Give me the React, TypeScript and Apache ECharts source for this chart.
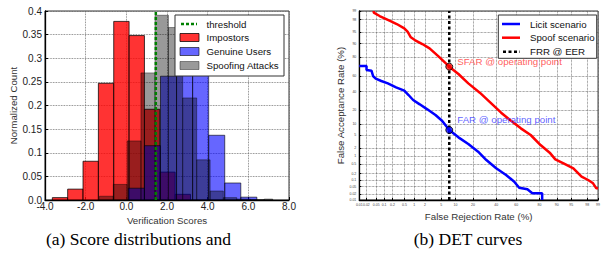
import React, { useEffect, useRef } from 'react';
import * as echarts from 'echarts';

// ---------- (a) histogram data (normalized counts) ----------
const histYTickLabels = ['0.0', '0.05', '0.1', '0.15', '0.2', '0.25', '0.3', '0.35', '0.4'];
const impostorEdges = [-3.64, -2.885, -2.13, -1.375, -0.62, 0.135, 0.89, 1.645, 2.4, 3.155];
const impostorCounts = [0.005, 0.023, 0.082, 0.247, 0.378, 0.348, 0.192, 0.059, 0.012];
const genuineEdges = [0.1, 0.89, 1.68, 2.47, 3.26, 4.05, 4.84, 5.63, 6.42];
const genuineCounts = [0.025, 0.115, 0.262, 0.35, 0.32, 0.137, 0.036, 0.006];
const spoofEdges = [-1.32, -0.64, 0.04, 0.72, 1.41, 2.07, 2.77, 3.46, 4.12, 4.77, 5.43, 6.1, 6.78, 7.2];
const spoofCounts = [0.008, 0.033, 0.125, 0.269, 0.391, 0.365, 0.216, 0.085, 0.019, 0.005, 0.002, 0.001, 0.002];
const thresholdScore = 1.45;

// ---------- (b) DET data (normal deviate coordinates) ----------
const detTickPercents = [0.01, 0.02, 0.05, 0.1, 0.2, 0.5, 1, 2, 5, 10, 20, 40, 60, 80, 90, 95, 98, 99];
const detTickLabels = ['0.01', '0.02', '0.05', '0.1', '0.2', '0.5', '1', '2', '5', '10', '20', '40', '60', '80', '90', '95', '98', '99'];
const licitFrrDev = [-3.719, -3.536, -3.536, -3.411, -3.37, -3.303, -3.162, -2.996, -2.788, -2.58, -2.472, -2.356, -2.189, -1.998, -1.79, -1.624, -1.441, -1.209, -0.959, -0.71, -0.502, -0.253, -0.003, 0.205, 0.329, 0.537, 0.662, 0.911, 0.911];
const licitFarDev = [0.567, 0.567, 0.439, 0.417, 0.247, 0.162, 0.087, 0.012, -0.116, -0.222, -0.361, -0.521, -0.659, -0.819, -1.0, -1.182, -1.48, -1.715, -1.928, -2.173, -2.44, -2.706, -2.919, -3.133, -3.325, -3.378, -3.506, -3.506, -3.719];
const spoofFrrDev = [-3.353, -3.353, -3.204, -2.954, -2.771, -2.58, -2.497, -2.414, -2.314, -2.123, -1.94, -1.707, -1.441, -1.209, -0.959, -0.668, -0.378, -0.128, 0.121, 0.371, 0.62, 0.87, 1.102, 1.244, 1.452, 1.701, 1.909, 2.075, 2.2, 2.283, 2.326];
const spoofFarDev = [2.326, 2.272, 2.166, 2.017, 1.91, 1.771, 1.665, 1.484, 1.398, 1.27, 1.132, 0.865, 0.545, 0.311, 0.012, -0.286, -0.627, -0.926, -1.182, -1.427, -1.64, -1.96, -2.205, -2.418, -2.546, -2.706, -2.973, -3.079, -3.186, -3.346, -3.346];
const eerFrrDev = -1.441;
const opLicitFarDev = -1.48;
const opSpoofFarDev = 0.545;

function probit(p: number): number {
  const a = [-3.969683028665376e1, 2.209460984245205e2, -2.759285104469687e2, 1.38357751867269e2, -3.066479806614716e1, 2.506628277459239];
  const b = [-5.447609879822406e1, 1.615858368580409e2, -1.556989798598866e2, 6.680131188771972e1, -1.328068155288572e1];
  const c = [-7.784894002430293e-3, -3.223964580411365e-1, -2.400758277161838, -2.549732539343734, 4.374664141464968, 2.938163982698783];
  const d = [7.784695709041462e-3, 3.224671290700398e-1, 2.445134137142996, 3.754408661907416];
  const pl = 0.02425;
  if (p < pl) {
    const q = Math.sqrt(-2 * Math.log(p));
    return (((((c[0] * q + c[1]) * q + c[2]) * q + c[3]) * q + c[4]) * q + c[5]) / ((((d[0] * q + d[1]) * q + d[2]) * q + d[3]) * q + 1);
  }
  if (p <= 1 - pl) {
    const q = p - 0.5, r = q * q;
    return (((((a[0] * r + a[1]) * r + a[2]) * r + a[3]) * r + a[4]) * r + a[5]) * q / (((((b[0] * r + b[1]) * r + b[2]) * r + b[3]) * r + b[4]) * r + 1);
  }
  const q = Math.sqrt(-2 * Math.log(1 - p));
  return -(((((c[0] * q + c[1]) * q + c[2]) * q + c[3]) * q + c[4]) * q + c[5]) / ((((d[0] * q + d[1]) * q + d[2]) * q + d[3]) * q + 1);
}

const FONT = 'Liberation Sans';
const TXT = '#222';

function bins(edges: number[], counts: number[]) {
  return counts.map((c, i) => [edges[i], edges[i + 1], c]);
}

function histSeries(name: string, edges: number[], counts: number[], fill: string, stroke: string) {
  return {
    type: 'custom',
    name,
    xAxisIndex: 0,
    yAxisIndex: 0,
    data: bins(edges, counts),
    encode: { x: [0, 1], y: 2 },
    clip: true,
    renderItem: (params: any, api: any) => {
      const p0 = api.coord([api.value(0), api.value(2)]);
      const p1 = api.coord([api.value(1), 0]);
      return {
        type: 'rect',
        shape: { x: p0[0], y: p0[1], width: p1[0] - p0[0], height: p1[1] - p0[1] },
        style: { fill, stroke, lineWidth: 1 },
      };
    },
  };
}

export default function App() {
  const ref = useRef<HTMLDivElement>(null);
  useEffect(() => {
    if (!ref.current) return;
    const chart = echarts.init(ref.current, undefined, { renderer: 'svg' });
    const detTicks = detTickPercents.map((p) => probit(p / 100));
    const detMin = detTicks[0];
    const detMax = detTicks[detTicks.length - 1];
    const detLabel = (v: number) => {
      const i = detTicks.findIndex((t) => Math.abs(t - v) < 1e-6);
      return i >= 0 ? detTickLabels[i] : '';
    };
    const gridDot = { show: true, lineStyle: { color: '#666', type: 'dotted', width: 0.8 } };
    const axisLine = { show: true, onZero: false, lineStyle: { color: '#000', width: 1.3 } };

    const legendTextStyle = { fontFamily: FONT, fontSize: 9.7, fill: '#111' };

    chart.setOption({
      animation: false,
      grid: [
        { left: 45, top: 11, width: 244, height: 189, show: true, borderColor: '#333', borderWidth: 1, backgroundColor: 'transparent' },
        { left: 359.3, top: 11, width: 242.4, height: 189, show: true, borderColor: '#333', borderWidth: 1, backgroundColor: 'transparent' },
      ],
      xAxis: [
        {
          type: 'value', gridIndex: 0, min: -4, max: 8, interval: 2,
          axisLine,
          axisTick: { show: true, inside: true, length: 3, lineStyle: { color: '#000' } },
          axisLabel: { fontFamily: FONT, fontSize: 10, color: TXT, margin: 1, formatter: (v: number) => v.toFixed(1) },
          splitLine: gridDot,
          name: 'Verification Scores', nameLocation: 'middle', nameGap: 12,
          nameTextStyle: { fontFamily: FONT, fontSize: 9.7, color: '#333' },
        },
        {
          type: 'value', gridIndex: 1, min: detMin, max: detMax,
          axisLine,
          axisTick: { show: true, inside: true, length: 2, customValues: detTicks, lineStyle: { color: '#000' } },
          axisLabel: { fontFamily: FONT, fontSize: 3.5, color: '#444', margin: 3, customValues: detTicks, formatter: detLabel, showMinLabel: true, showMaxLabel: true },
          splitLine: { show: true, lineStyle: { color: '#555', type: 'dotted', width: 0.7 } },
          name: 'False Rejection Rate (%)', nameLocation: 'middle', nameGap: 7,
          nameTextStyle: { fontFamily: FONT, fontSize: 9.7, color: '#333' },
        },
      ],
      yAxis: [
        {
          type: 'value', gridIndex: 0, min: 0, max: 0.4, interval: 0.05,
          axisLine,
          axisTick: { show: true, inside: true, length: 3, lineStyle: { color: '#000' } },
          axisLabel: {
            fontFamily: FONT, fontSize: 10, color: TXT, margin: 3,
            formatter: (v: number) => histYTickLabels[Math.round(v / 0.05)] ?? '',
          },
          splitLine: gridDot,
          name: 'Normalized Count', nameLocation: 'middle', nameGap: 24,
          nameTextStyle: { fontFamily: FONT, fontSize: 9.7, color: '#333' },
        },
        {
          type: 'value', gridIndex: 1, min: detMin, max: detMax,
          axisLine,
          axisTick: { show: true, inside: true, length: 2, customValues: detTicks, lineStyle: { color: '#000' } },
          axisLabel: { fontFamily: FONT, fontSize: 3.5, color: '#444', margin: 3, customValues: detTicks, formatter: detLabel, showMinLabel: true, showMaxLabel: true },
          splitLine: { show: true, lineStyle: { color: '#555', type: 'dotted', width: 0.7 } },
          name: 'False Acceptance Rate (%)', nameLocation: 'middle', nameGap: 12,
          nameTextStyle: { fontFamily: FONT, fontSize: 9.7, color: '#333' },
        },
      ],
      series: [
        histSeries('Impostors', impostorEdges, impostorCounts, 'rgba(255,0,0,0.8)', 'rgba(0,0,0,0.75)'),
        histSeries('Genuine Users', genuineEdges, genuineCounts, 'rgba(0,0,255,0.6)', 'rgba(0,0,0,0.6)'),
        histSeries('Spoofing Attacks', spoofEdges, spoofCounts, 'rgba(0,0,0,0.4)', 'rgba(0,0,0,0.4)'),
        {
          type: 'line', name: 'threshold', xAxisIndex: 0, yAxisIndex: 0,
          data: [[thresholdScore, 0], [thresholdScore, 0.4]],
          symbol: 'none', lineStyle: { color: '#008000', width: 2.5, type: [3, 2] }, z: 5,
        },
        {
          type: 'line', name: 'FRR @ EER', xAxisIndex: 1, yAxisIndex: 1,
          data: [[eerFrrDev, detMin], [eerFrrDev, detMax]],
          symbol: 'none', lineStyle: { color: '#000', width: 2.5, type: [3, 2.5] }, z: 3,
        },
        {
          type: 'line', name: 'Licit scenario', xAxisIndex: 1, yAxisIndex: 1,
          data: licitFrrDev.map((x, i) => [x, licitFarDev[i]]),
          symbol: 'none', lineStyle: { color: '#0000ff', width: 2.5 }, z: 4,
        },
        {
          type: 'line', name: 'Spoof scenario', xAxisIndex: 1, yAxisIndex: 1,
          data: spoofFrrDev.map((x, i) => [x, spoofFarDev[i]]),
          symbol: 'none', lineStyle: { color: '#ff0000', width: 2.5 }, z: 4,
        },
        {
          type: 'scatter', xAxisIndex: 1, yAxisIndex: 1, z: 6, symbolSize: 7,
          data: [
            {
              value: [eerFrrDev, opSpoofFarDev],
              itemStyle: { color: '#ff0000', borderColor: '#000', borderWidth: 1 },
              label: { show: true, position: 'right', offset: [-1, -5], formatter: 'SFAR @ operating point', color: '#ff3030', fontFamily: FONT, fontSize: 9.7 },
            },
            {
              value: [eerFrrDev, opLicitFarDev],
              itemStyle: { color: '#0000ff', borderColor: '#000', borderWidth: 1 },
              label: { show: true, position: 'right', offset: [-1, -11], formatter: 'FAR @ operating point', color: '#3333ff', fontFamily: FONT, fontSize: 9.7 },
            },
          ],
        },
      ],
      graphic: [
        // legend (a)
        { type: 'rect', shape: { x: 175, y: 15, width: 109, height: 61 }, style: { fill: '#fff', stroke: '#333', lineWidth: 1 }, z: 100 },
        { type: 'line', shape: { x1: 181, y1: 24, x2: 197, y2: 24 }, style: { stroke: '#008000', lineWidth: 2.5, lineDash: [3, 2] }, z: 101 },
        { type: 'text', x: 206.5, y: 24, style: { text: 'threshold', ...legendTextStyle, verticalAlign: 'middle' }, z: 101 },
        { type: 'rect', shape: { x: 180, y: 33.5, width: 19, height: 8 }, style: { fill: 'rgba(255,0,0,0.8)', stroke: 'rgba(0,0,0,0.75)', lineWidth: 1 }, z: 101 },
        { type: 'text', x: 206.5, y: 37.7, style: { text: 'Impostors', ...legendTextStyle, verticalAlign: 'middle' }, z: 101 },
        { type: 'rect', shape: { x: 180, y: 47.5, width: 19, height: 8 }, style: { fill: 'rgba(0,0,255,0.6)', stroke: 'rgba(0,0,0,0.6)', lineWidth: 1 }, z: 101 },
        { type: 'text', x: 206.5, y: 51.7, style: { text: 'Genuine Users', ...legendTextStyle, verticalAlign: 'middle' }, z: 101 },
        { type: 'rect', shape: { x: 180, y: 61.5, width: 19, height: 8 }, style: { fill: 'rgba(0,0,0,0.4)', stroke: 'rgba(0,0,0,0.4)', lineWidth: 1 }, z: 101 },
        { type: 'text', x: 206.5, y: 65.7, style: { text: 'Spoofing Attacks', ...legendTextStyle, verticalAlign: 'middle' }, z: 101 },
        // legend (b)
        { type: 'rect', shape: { x: 498.3, y: 15, width: 98.4, height: 43.3 }, style: { fill: '#fff', stroke: '#333', lineWidth: 1 }, z: 100 },
        { type: 'line', shape: { x1: 502, y1: 24, x2: 520, y2: 24 }, style: { stroke: '#0000ff', lineWidth: 2.5 }, z: 101 },
        { type: 'text', x: 530, y: 24, style: { text: 'Licit scenario', ...legendTextStyle, verticalAlign: 'middle' }, z: 101 },
        { type: 'line', shape: { x1: 502, y1: 37.7, x2: 520, y2: 37.7 }, style: { stroke: '#ff0000', lineWidth: 2.5 }, z: 101 },
        { type: 'text', x: 530, y: 37.7, style: { text: 'Spoof scenario', ...legendTextStyle, verticalAlign: 'middle' }, z: 101 },
        { type: 'line', shape: { x1: 503, y1: 51.7, x2: 520, y2: 51.7 }, style: { stroke: '#000', lineWidth: 2.5, lineDash: [3, 2.5] }, z: 101 },
        { type: 'text', x: 530, y: 51.7, style: { text: 'FRR @ EER', ...legendTextStyle, verticalAlign: 'middle' }, z: 101 },
        // captions
        { type: 'text', x: 138.5, y: 238.5, style: { text: '(a) Score distributions and', fontFamily: 'Liberation Serif', fontSize: 17.5, fill: '#000', align: 'center', verticalAlign: 'middle' } },
        { type: 'text', x: 468, y: 238.5, style: { text: '(b) DET curves', fontFamily: 'Liberation Serif', fontSize: 17.5, fill: '#000', align: 'center', verticalAlign: 'middle' } },
      ],
    });
    return () => chart.dispose();
  }, []);
  return <div ref={ref} style={{ position: 'fixed', left: 0, top: 0, width: 603, height: 255, background: '#fff' }} />;
}
